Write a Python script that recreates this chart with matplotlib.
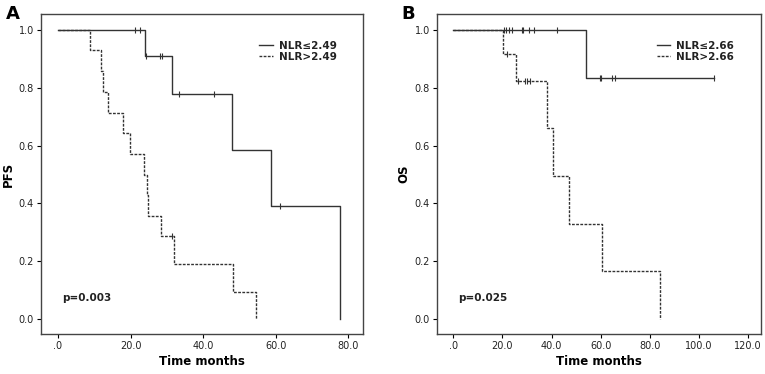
import numpy as np
import matplotlib
matplotlib.use("Agg")
import matplotlib.pyplot as plt

# Panel A: PFS by NLR (cut-off 2.49)
pfs_low_t = [0, 23.9, 31.4, 47.9, 58.6, 77.8]
pfs_low_s = [1.0, 0.909, 0.779, 0.584, 0.390, 0.0]
pfs_low_cens = [21.3, 22.6, 24.2, 28.0, 28.8, 33.4, 43.1, 61.1]

pfs_high_t = [0, 8.9, 11.9, 12.3, 13.7, 18.0, 19.9, 23.8, 24.5, 24.9, 28.5, 31.9, 48.2, 54.6]
pfs_high_s = [1.0, 0.929, 0.857, 0.786, 0.714, 0.643, 0.571, 0.500, 0.429, 0.357, 0.286, 0.190, 0.095, 0.0]
pfs_high_cens = [31.3]

# Panel B: OS by NLR (cut-off 2.66)
os_low_t = [0, 54.1]
os_low_s = [1.0, 0.833]
os_low_cens = [20.6, 21.3, 22.5, 23.8, 27.8, 28.5, 30.9, 32.8, 42.4, 59.7, 60.3, 64.4, 65.8, 106.2]

os_high_t = [0, 20.3, 25.5, 38.0, 40.4, 47.2, 60.7, 84.1]
os_high_s = [1.0, 0.917, 0.825, 0.660, 0.495, 0.330, 0.165, 0.0]
os_high_cens = [21.7, 26.4, 29.2, 30.1, 31.2]

line_col = "#333333"
text_col = "#222222"


def km_curve(ax, t, s, cens, ls, label):
    t = list(t)
    s = list(s)
    # extend the curve to the last censored time if it comes after the last event
    if cens and max(cens) > t[-1]:
        t.append(max(cens))
        s.append(s[-1])
    ax.step(t, s, where="post", color=line_col, lw=1.0, ls=ls, label=label)
    idx = np.searchsorted(t, cens, side="right") - 1
    cens_s = np.array(s)[idx]
    ax.plot(cens, cens_s, ls="none", marker="|", ms=5, mew=0.8, color=line_col)


def style_axes(ax, xticks, xlim, ylabel, ptext, panel):
    ax.set_xlim(*xlim)
    ax.set_ylim(-0.051, 1.055)
    ax.set_xticks(xticks)
    ax.set_xticklabels([".0"] + ["%.1f" % v for v in xticks[1:]])
    ax.set_yticks([0, 0.2, 0.4, 0.6, 0.8, 1.0])
    ax.set_yticklabels(["0.0", "0.2", "0.4", "0.6", "0.8", "1.0"])
    ax.tick_params(direction="out", length=3, width=0.8, labelsize=7, pad=2,
                   labelcolor=text_col, top=False, right=False)
    for sp in ax.spines.values():
        sp.set_linewidth(1.0)
        sp.set_color("#444444")
    ax.set_xlabel("Time months", fontsize=8.5, fontweight="bold", labelpad=3)
    ax.set_ylabel(ylabel, fontsize=8.5, fontweight="bold", labelpad=3)
    ax.text(0.065, 0.112, ptext, transform=ax.transAxes, fontsize=7.5,
            fontweight="bold", color=text_col, va="center")
    ax.text(-0.11, 1.0, panel, transform=ax.transAxes, fontsize=13,
            fontweight="bold", va="center", ha="left")
    leg = ax.legend(loc="upper left", bbox_to_anchor=(0.665, 0.93), frameon=False,
                    fontsize=7.5, handlelength=1.3, handletextpad=0.6,
                    labelspacing=0.15, borderaxespad=0)
    for txt in leg.get_texts():
        txt.set_fontweight("bold")
        txt.set_color(text_col)


fig = plt.figure(figsize=(7.65, 3.74), dpi=100)
ax1 = fig.add_axes([0.0536, 0.107, 0.4209, 0.8556])
ax2 = fig.add_axes([0.5708, 0.107, 0.4240, 0.8556])

km_curve(ax1, pfs_low_t, pfs_low_s, pfs_low_cens, "-", "NLR≤2.49")
km_curve(ax1, pfs_high_t, pfs_high_s, pfs_high_cens, (0, (2, 1)), "NLR>2.49")
style_axes(ax1, [0, 20, 40, 60, 80], (-4.69, 84.1), "PFS", "p=0.003", "A")

km_curve(ax2, os_low_t, os_low_s, os_low_cens, "-", "NLR≤2.66")
km_curve(ax2, os_high_t, os_high_s, os_high_cens, (0, (2, 1)), "NLR>2.66")
style_axes(ax2, [0, 20, 40, 60, 80, 100, 120], (-6.75, 125.2), "OS", "p=0.025", "B")

fig.savefig("out.png", dpi=100)
